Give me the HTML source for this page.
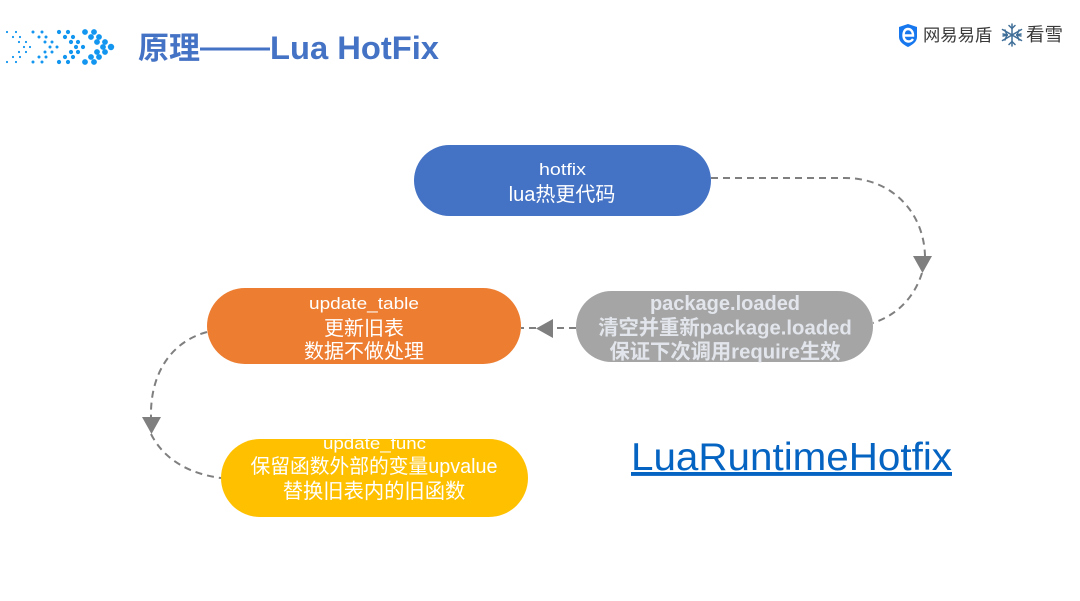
<!DOCTYPE html>
<html>
<head>
<meta charset="utf-8">
<style>
html,body{margin:0;padding:0;background:#fff;width:1080px;height:601px;overflow:hidden}
svg{display:block}
text{font-family:"Liberation Sans","Noto Sans CJK SC",sans-serif}
.w{fill:#fff;text-anchor:middle}
.g{fill:#E2E6EC;text-anchor:middle;font-weight:bold}
</style>
</head>
<body>
<svg width="1080" height="601" viewBox="0 0 1080 601" xmlns="http://www.w3.org/2000/svg">
<rect width="1080" height="601" fill="#fff"/>

<!-- chevron dots -->
<g fill="#1296F0">
<g>
<circle cx="7" cy="32" r="1.1"/><circle cx="16" cy="32" r="1.1"/><circle cx="13" cy="37" r="1.1"/><circle cx="20" cy="37" r="1.1"/><circle cx="19" cy="42" r="1.1"/><circle cx="26" cy="42" r="1.1"/><circle cx="24" cy="47" r="1.1"/><circle cx="30" cy="47" r="1.1"/><circle cx="19" cy="52" r="1.1"/><circle cx="26" cy="52" r="1.1"/><circle cx="13" cy="57" r="1.1"/><circle cx="20" cy="57" r="1.1"/><circle cx="7" cy="62" r="1.1"/><circle cx="16" cy="62" r="1.1"/>
</g>
<g>
<circle cx="33" cy="32" r="1.5"/><circle cx="42" cy="32" r="1.5"/><circle cx="39" cy="37" r="1.5"/><circle cx="46" cy="37" r="1.5"/><circle cx="45" cy="42" r="1.5"/><circle cx="52" cy="42" r="1.5"/><circle cx="50" cy="47" r="1.5"/><circle cx="57" cy="47" r="1.5"/><circle cx="45" cy="52" r="1.5"/><circle cx="52" cy="52" r="1.5"/><circle cx="39" cy="57" r="1.5"/><circle cx="46" cy="57" r="1.5"/><circle cx="33" cy="62" r="1.5"/><circle cx="42" cy="62" r="1.5"/>
</g>
<g>
<circle cx="59" cy="32" r="2.1"/><circle cx="68" cy="32" r="2.1"/><circle cx="65" cy="37" r="2.1"/><circle cx="73" cy="37" r="2.1"/><circle cx="71" cy="42" r="2.1"/><circle cx="78" cy="42" r="2.1"/><circle cx="76" cy="47" r="2.1"/><circle cx="83" cy="47" r="2.1"/><circle cx="71" cy="52" r="2.1"/><circle cx="78" cy="52" r="2.1"/><circle cx="65" cy="57" r="2.1"/><circle cx="73" cy="57" r="2.1"/><circle cx="59" cy="62" r="2.1"/><circle cx="68" cy="62" r="2.1"/>
</g>
<g>
<circle cx="85" cy="32" r="2.9"/><circle cx="94" cy="32" r="2.9"/><circle cx="91" cy="37" r="2.9"/><circle cx="99" cy="37" r="2.9"/><circle cx="97" cy="42" r="2.9"/><circle cx="105" cy="42" r="2.9"/><circle cx="103" cy="47" r="2.9"/><circle cx="111" cy="47" r="3.2"/><circle cx="97" cy="52" r="2.9"/><circle cx="105" cy="52" r="2.9"/><circle cx="91" cy="57" r="2.9"/><circle cx="99" cy="57" r="2.9"/><circle cx="85" cy="62" r="2.9"/><circle cx="94" cy="62" r="2.9"/>
</g>
</g>

<!-- title -->
<text x="138" y="59" font-size="31" font-weight="bold" fill="#4472C4">原理</text>
<rect x="200" y="47.5" width="70" height="3" fill="#4472C4"/>
<text x="270" y="59" font-size="32" font-weight="bold" fill="#4472C4" textLength="169" lengthAdjust="spacingAndGlyphs">Lua HotFix</text>

<!-- logos -->
<path d="M899 27 L908 24 L917 27 V37 C917 42 912 45 908 47 C904 45 899 42 899 37 Z" fill="#1677EE"/>
<path d="M902.5 35.5 H913 C913 31 910.5 29 908 29 C905 29 903.5 31.5 903.5 35.5 C903.5 39.5 906 41.5 908.5 41.5 C910.5 41.5 912 40.5 913 39" fill="none" stroke="#fff" stroke-width="2.4"/>
<text x="923" y="41" font-size="17.3" fill="#3a3a3a">网易易盾</text>
<g stroke="#3F6F98" stroke-width="1.5" fill="none" stroke-linecap="round">
<path d="M1012 24 V46 M1002.5 29.5 L1021.5 40.5 M1021.5 29.5 L1002.5 40.5"/>
<path d="M1009 25.5 L1012 28.5 L1015 25.5 M1009 44.5 L1012 41.5 L1015 44.5 M1003 34 L1007 35 L1005 30 M1021 34 L1017 35 L1019 30 M1003 36 L1007 35 L1005 40 M1021 36 L1017 35 L1019 40"/>
</g>
<text x="1026" y="41" font-size="18.5" fill="#3a3a3a">看雪</text>

<!-- connectors -->
<g fill="none" stroke="#7F7F7F" stroke-width="2" stroke-dasharray="7 5">
<path d="M711 178 H845 C893 178 925 214 925 258"/>
<path d="M922 273 C914 298 897 315 873 323"/>
<path d="M576 328 H553"/>
<path d="M536 328 H521"/>
<path d="M207 332 C170 342 150 375 151 417"/>
<path d="M151 434 C164 460 190 474 221 478"/>
</g>
<polygon points="913,256 932,256 922.5,273" fill="#7F7F7F"/>
<polygon points="553,319 553,338 536,328.5" fill="#7F7F7F"/>
<polygon points="142,417 161,417 151.5,434" fill="#7F7F7F"/>

<!-- nodes -->
<rect x="414" y="145" width="297" height="71" rx="35.5" fill="#4472C4"/>
<rect x="207" y="288" width="314" height="76" rx="38" fill="#ED7D31"/>
<rect x="576" y="291" width="297" height="71" rx="35.5" fill="#A5A5A5"/>
<rect x="221" y="439" width="307" height="78" rx="39" fill="#FFC000"/>

<!-- node text -->
<text class="w" x="562.5" y="175" font-size="17" textLength="47" lengthAdjust="spacingAndGlyphs">hotfix</text>
<text class="w" x="562" y="201" font-size="20">lua热更代码</text>

<text class="w" x="364" y="309" font-size="17" textLength="110" lengthAdjust="spacingAndGlyphs">update_table</text>
<text class="w" x="364" y="335" font-size="20">更新旧表</text>
<text class="w" x="364" y="358" font-size="20">数据不做处理</text>

<text class="g" x="725" y="310" font-size="20">package.loaded</text>
<text class="g" x="725" y="334.5" font-size="20.3">清空并重新package.loaded</text>
<text class="g" x="725" y="358.5" font-size="20.3">保证下次调用require生效</text>

<text class="w" x="374.5" y="449" font-size="17" textLength="103" lengthAdjust="spacingAndGlyphs">update_func</text>
<text class="w" x="374" y="473" font-size="20" textLength="247" lengthAdjust="spacingAndGlyphs">保留函数外部的变量upvalue</text>
<text class="w" x="374" y="498" font-size="20.3">替换旧表内的旧函数</text>

<!-- link -->
<text x="631" y="470" font-size="39" fill="#0563C1" text-decoration="underline" textLength="321" lengthAdjust="spacingAndGlyphs">LuaRuntimeHotfix</text>
</svg>
</body>
</html>
